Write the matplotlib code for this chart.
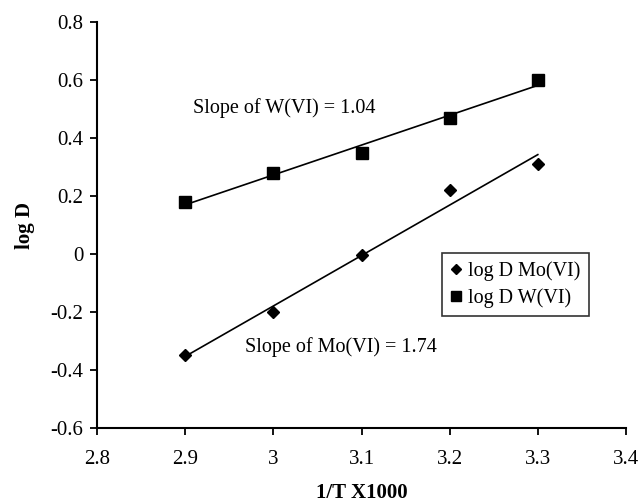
import numpy as np
import matplotlib
matplotlib.use("Agg")
import matplotlib.pyplot as plt

plt.rcParams['font.family'] = ['Liberation Serif', 'DejaVu Serif']

x_vals = [2.9, 3.0, 3.1, 3.2, 3.3]
mo_logD = [-0.35, -0.20, -0.005, 0.22, 0.31]
w_logD = [0.18, 0.28, 0.35, 0.47, 0.60]
x_ticks = [2.8, 2.9, 3.0, 3.1, 3.2, 3.3, 3.4]
y_ticks = [-0.6, -0.4, -0.2, 0, 0.2, 0.4, 0.6, 0.8]
x_ticklabels = ['2.8', '2.9', '3', '3.1', '3.2', '3.3', '3.4']
y_ticklabels = ['-0.6', '-0.4', '-0.2', '0', '0.2', '0.4', '0.6', '0.8']

fig = plt.figure(figsize=(6.4, 5.04), dpi=100)
ax = fig.add_axes([0.152, 0.151, 0.826, 0.805])

xa = np.array(x_vals)
for ys in (mo_logD, w_logD):
    p = np.polyfit(xa, ys, 1)
    ax.plot([xa[0], xa[-1]], np.polyval(p, [xa[0], xa[-1]]), color='black', lw=1.2, zorder=2)

ax.plot(x_vals, mo_logD, linestyle='none', marker='D', markersize=6.3, color='black', label='log D Mo(VI)', zorder=3)
ax.plot(x_vals, w_logD, linestyle='none', marker='s', markersize=8.3, color='black', label='log D W(VI)', zorder=3)

ax.text(2.909, 0.505, 'Slope of W(VI) = 1.04', fontsize=14.5, va='center', ha='left')
ax.text(2.968, -0.32, 'Slope of Mo(VI) = 1.74', fontsize=14.5, va='center', ha='left')

ax.set_xlim(2.8, 3.4)
ax.set_ylim(-0.6, 0.8)
ax.set_xticks(x_ticks)
ax.set_xticklabels(x_ticklabels)
ax.set_yticks(y_ticks)
ax.set_yticklabels(y_ticklabels)
ax.tick_params(direction='out', length=5, width=1.3, labelsize=15)
ax.tick_params(axis='x', pad=11)
ax.tick_params(axis='y', pad=5)
for s in ('top', 'right'):
    ax.spines[s].set_visible(False)
for s in ('left', 'bottom'):
    ax.spines[s].set_linewidth(1.5)

ax.set_xlabel('1/T X1000', fontsize=15, fontweight='bold', labelpad=10)
ax.set_ylabel('log D', fontsize=15, fontweight='bold', labelpad=11)

leg = ax.legend(loc='upper left', bbox_to_anchor=(0.652, 0.431), fontsize=14.5,
                frameon=True, fancybox=False, edgecolor='black', handlelength=0.6,
                handletextpad=0.3, borderpad=0.4, labelspacing=0.35, borderaxespad=0,
                markerscale=0.8)
leg.get_frame().set_linewidth(1.2)

fig.savefig('out.png', dpi=100)
